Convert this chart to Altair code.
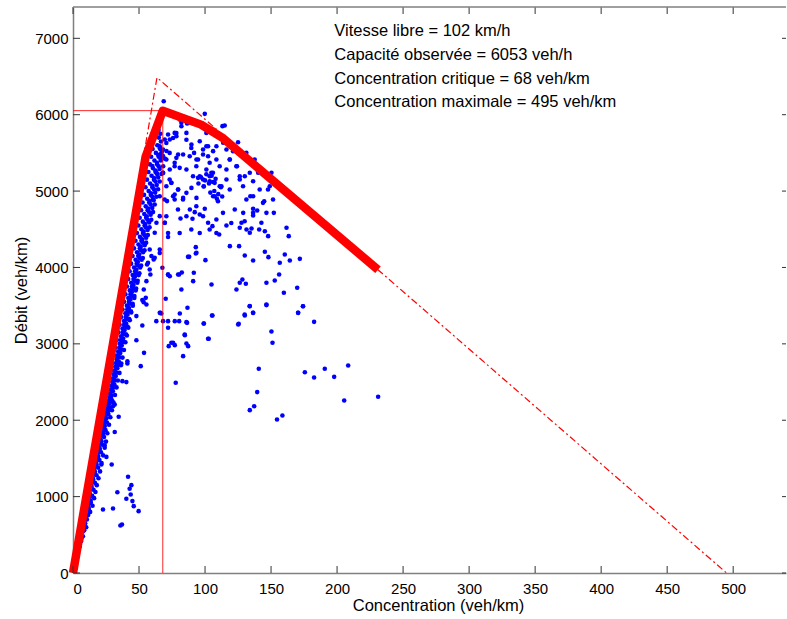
import altair as alt
import pandas as pd

# ---------------- data ----------------
# dense free-flow band (concentration veh/km, flow veh/h)
band_conc = [0.5, 1, 1.4, 2, 2.2, 3, 3.1, 3.9, 4.2, 5, 5.1, 6.2, 6, 7, 7.5, 8.5, 7.8, 9, 10, 9.2, 10.5, 11.5,
             10.6, 12, 13, 11.8, 13.5, 14.8, 12.9, 14.5, 16,
             14, 15.5, 17, 15.1, 16.6, 18, 16.3, 17.8, 19.3, 17.4, 19, 20.5, 18.6, 20, 21.6, 19.7, 21.2, 22.8,
             20.8, 22.3, 24, 22, 23.5, 25, 23.1, 24.6, 26, 24.2, 25.7, 27.3,
             25.3, 26.8, 28.3, 26.4, 28, 29.5, 27.5, 29, 30.7, 28.6, 30.2, 31.8, 29.8, 31.3, 33, 30.9, 32.4, 34,
             32, 33.6, 35.2, 33.1, 34.7, 36.3, 34.2, 35.8, 37.5, 35.3, 36.9, 38.6,
             36.4, 38, 39.7, 37.5, 39.1, 40.8, 38.6, 40.2, 41.9, 39.7, 41.3, 43, 40.8, 42.4, 44.1, 41.9, 43.5, 45.3,
             43, 44.6, 46.4, 44.1, 45.8, 47.5, 45.2, 46.9, 48.7, 46.3, 48, 49.8,
             47.4, 49.1, 50.9, 48.5, 50.2, 52, 49.6, 51.3, 53.1, 50.7, 52.4, 54.3, 51.8, 53.5, 55.4, 52.9, 54.7, 56.5,
             54, 55.8, 57.7, 55.1, 56.9, 58.8, 56.2, 58, 60, 57.3, 59.1, 61.1,
             58.4, 60.2, 62.2, 59.5, 61.4, 63.4, 60.6, 62.5, 64.5, 61.7, 63.6, 65.6, 62.8, 64.7, 66.5, 63.9, 65.8, 67,
             65, 66.6, 64.8, 66.2,
             1.8, 2.3, 2.9, 3.6, 4, 5, 5.1, 6.4, 6.2, 7.8, 7.3, 9.2, 8.4, 10.5, 9.4, 11.9, 10.5, 13.3,
             11.4, 12.5, 12.5, 13.7, 13.6, 14.9, 14.7, 16.1, 15.8, 17.3, 16.8, 18.5, 17.9, 19.6, 19, 20.8,
             20.1, 22, 21.2, 23.2, 22.3, 24.4, 23.4, 25.6, 24.5, 26.8, 25.5, 28, 26.6, 29.2, 27.7, 30.4,
             28.8, 31.5, 29.9, 32.7, 31, 33.9, 32.1, 35.1, 33.2, 36.3, 34.2, 37.5, 35.3, 38.7, 36.4, 39.9,
             37.5, 41.1, 38.6, 42.3, 39.7, 43.5, 40.8, 44.6, 41.8, 45.8, 42.9, 47, 44, 48.2, 45.1, 49.4,
             46.2, 50.6, 47.3, 51.8, 48.4, 53, 49.5, 54.2, 50.5, 55.4, 51.6, 56.5, 52.7, 57.7, 53.8, 58.9,
             54.9, 60.1, 56, 61.3, 57.1, 62.5, 58.2, 63.7, 59.2, 64.9, 60.3, 66,
             36.9, 38.8, 38.1, 40.1, 39.3, 41.3, 40.5, 42.6, 41.8, 43.9, 43, 45.2, 44.2, 46.5, 45.4, 47.8,
             46.6, 49, 47.9, 50.3, 49.1, 51.6, 50.3, 52.9, 51.5, 54.2, 52.7, 55.4, 54, 56.7, 55.2, 58,
             56.4, 59.3, 57.6, 60.6, 58.8, 61.9, 60.1, 63.1, 61.3, 64.4, 62.5, 65.7, 63.7, 67, 64.9, 68.3,
             66.2, 69.5, 67.4, 70.8,
             12.8, 14.1, 15.3, 16.6, 17.8, 19.1, 20.3, 21.6, 22.8, 24.1, 25.3, 26.6, 27.8, 29.1, 30.3, 31.6,
             32.8, 34.1, 35.3, 36.6]
band_flow = [40, 90, 110, 150, 200, 220, 280, 300, 360, 350, 430, 420, 500, 540, 480, 560, 620, 640, 600, 720, 700, 760,
             820, 820, 800, 900, 920, 880, 1000, 1010, 980,
             1100, 1090, 1060, 1200, 1180, 1150, 1300, 1280, 1240, 1400, 1380, 1330, 1500, 1480, 1440, 1600, 1580, 1540,
             1700, 1680, 1640, 1800, 1780, 1720, 1900, 1870, 1830, 2000, 1970, 1940,
             2100, 2080, 2040, 2200, 2170, 2130, 2300, 2280, 2230, 2400, 2380, 2330, 2500, 2470, 2430, 2600, 2580, 2520,
             2700, 2680, 2620, 2800, 2770, 2720, 2900, 2880, 2820, 3000, 2980, 2920,
             3100, 3070, 3020, 3200, 3180, 3110, 3300, 3270, 3210, 3400, 3380, 3310, 3500, 3470, 3410, 3600, 3580, 3500,
             3700, 3680, 3600, 3800, 3770, 3700, 3900, 3880, 3800, 4000, 3970, 3900,
             4100, 4070, 4000, 4200, 4170, 4100, 4300, 4270, 4200, 4400, 4370, 4290, 4500, 4470, 4390, 4600, 4570, 4490,
             4700, 4670, 4590, 4800, 4770, 4690, 4900, 4870, 4780, 5000, 4970, 4880,
             5100, 5070, 4980, 5200, 5170, 5080, 5300, 5270, 5180, 5400, 5370, 5290, 5500, 5470, 5400, 5600, 5560, 5500,
             5700, 5650, 5800, 5750,
             150, 150, 250, 250, 350, 350, 450, 450, 550, 550, 650, 650, 750, 750, 850, 850, 950, 950,
             1050, 1050, 1150, 1150, 1250, 1250, 1350, 1350, 1450, 1450, 1550, 1550, 1650, 1650, 1750, 1750,
             1850, 1850, 1950, 1950, 2050, 2050, 2150, 2150, 2250, 2250, 2350, 2350, 2450, 2450, 2550, 2550,
             2650, 2650, 2750, 2750, 2850, 2850, 2950, 2950, 3050, 3050, 3150, 3150, 3250, 3250, 3350, 3350,
             3450, 3450, 3550, 3550, 3650, 3650, 3750, 3750, 3850, 3850, 3950, 3950, 4050, 4050, 4150, 4150,
             4250, 4250, 4350, 4350, 4450, 4450, 4550, 4550, 4650, 4650, 4750, 4750, 4850, 4850, 4950, 4950,
             5050, 5050, 5150, 5150, 5250, 5250, 5350, 5350, 5450, 5450, 5550, 5550,
             3025, 3025, 3125, 3125, 3225, 3225, 3325, 3325, 3425, 3425, 3525, 3525, 3625, 3625, 3725, 3725,
             3825, 3825, 3925, 3925, 4025, 4025, 4125, 4125, 4225, 4225, 4325, 4325, 4425, 4425, 4525, 4525,
             4625, 4625, 4725, 4725, 4825, 4825, 4925, 4925, 5025, 5025, 5125, 5125, 5225, 5225, 5325, 5325,
             5425, 5425, 5525, 5525,
             1025, 1125, 1225, 1325, 1425, 1525, 1625, 1725, 1825, 1925, 2025, 2125, 2225, 2325, 2425, 2525,
             2625, 2725, 2825, 2925]

# scattered observations (congested / transition regime)
scat_conc = [53.5, 55.6, 66.9, 63.1, 68.2, 72, 48, 52.5, 48, 53.8, 72, 72.5, 74.5,
             22.7, 30.3, 33.6, 40.4, 41.7, 42.9, 43.7, 44.2, 45, 46, 49.7, 35.9, 37.1,
             34.6, 31.6, 30.3, 31.6, 29.8, 25.3, 24, 21.5, 29.3, 36.6, 37.4, 40.4, 41.2, 41.2,
             69.5, 72, 65.7, 61.9, 67.7, 79.6, 70.2, 66.2, 52.5, 55.6, 58.6, 56.8, 59.4, 58.1, 61.9, 63.2, 65.7,
             71.2, 77, 79.6, 74.5, 73.3, 77, 79.6, 65.7, 68.2, 60.1, 63.2, 60.6, 51.3,
             55.1, 53.6, 58.1, 61.1, 56.1, 73.3, 72, 87.1, 93, 65.7,
             72, 77, 82.1, 86.4, 90.9, 95.5, 113.2, 114.9, 106.1, 101,
             69.5, 73.3, 78.3, 85.9, 96, 102.3, 108.6, 113.7, 116.2, 125, 65.7, 68.2, 89.7, 98.5, 106.1,
             65.7, 70.7, 78.3, 83.4, 88.4, 93.5, 98.5, 103.5, 108.6, 111.1, 118.7, 123.7, 131.3, 133.9, 137.6, 101, 104.8,
             68.2, 77, 80.8, 85.9, 90.9, 94.7, 98.5, 103.5, 107.3, 111.1, 116.2, 118.7, 126.3, 130.1, 133.9, 141.4,
             147.7, 150.3, 70.7, 74.5, 79.6, 85.9, 89.7,
             65.7, 77, 83.4, 93.5, 106.1, 136.4, 69.5, 65.7, 72,
             68.7, 99.8, 80.8, 87.1,
             97, 100, 103, 105, 107, 108, 110, 112, 99, 104, 106, 109, 101, 95, 113,
             136.4, 142.7, 145.3, 147.8, 133.9, 126.3, 118.8, 125.8, 130.1, 136.4, 145.3, 148, 131.4, 135.2, 141,
             152.1, 144.8, 139.5, 136.4, 128.9, 127.6, 116.2, 110.7, 105.6, 102.3, 99.8, 96, 92.2, 88.5, 90.5, 81.4,
             93, 93.5, 88, 100.3, 104.9, 91, 91.5, 82.1, 80.4, 82.4, 123.8, 126.3, 128.3, 130.9, 146.5, 152.8, 156.1,
             159.7, 169.8, 161.7, 163.4, 160.4, 164.2, 156.6, 171.8, 133.9, 136.4, 130.1, 125.1, 146.5, 105.6, 99.1,
             102.8, 86.7, 80.9, 77.1, 80.4, 86.4, 84.7, 75.8, 77.1, 85.9, 87.2, 83.4, 77.8, 150.3, 151.1, 140.7, 139.5,
             133.9, 137.2, 158.6, 175.6, 182.6, 190.7, 197.8, 208.4, 205.4, 231.1, 154.5, 170.5, 174.2, 182.6,
             125.5, 130, 133.8, 136.4, 146.5, 170.5, 174.2, 99, 105.3, 84.6, 85.9, 102.3,
             70.7, 73.2, 75.8, 78.3, 82.1, 82.8, 87.1, 85.9, 89.6, 91.7, 93.4, 96, 94.7, 101, 102.3, 99, 103.5,
             106, 107.3, 109.8, 112.4, 116.2, 118.7, 121.2, 124.2, 126.3, 128.8, 131.3, 134.3, 136.4, 140.2, 143.9,
             146.5, 149, 151.5, 73.2, 75.8, 79.5, 83.3, 85.9, 89.6, 93.4, 98.5, 103.5, 108.6, 113.6, 119.9, 122.5,
             130, 136.4, 66.9, 68.2, 69.4, 70.7, 72, 80.8, 96, 108.6]
scat_flow = [3546, 3515, 3398, 3297, 3297, 3297, 3363, 3240, 3048, 2882, 3210, 2970, 3014,
             832, 845, 1058, 971, 1259, 1102, 1028, 1150, 941, 875, 810, 622, 635,
             2046, 1845, 2184, 2206, 2250, 1520, 1673, 1420, 1420, 2743, 2512, 2499, 2773, 2743,
             4585, 4399, 4236, 4127, 3996, 3908, 3590, 3407, 3573, 3821, 3909, 4061, 4149, 4236, 4454, 4585, 4672,
             4869, 4890, 5021, 5109, 5283, 5370, 5480, 5480, 5458, 5327, 5240, 4890, 2708,
             3602, 3711, 3973, 4104, 4039, 3886, 3908, 4139, 4183, 3406,
             5740, 5762, 5894, 5885, 5894, 5871, 5850, 5858, 5806, 5762,
             5675, 5675, 5719, 5762, 5653, 5588, 5588, 5632, 5544, 5640, 5588, 5544, 5610, 5544, 5523,
             5457, 5413, 5435, 5479, 5457, 5413, 5479, 5370, 5413, 5326, 5413, 5326, 5501, 5413, 5413, 5283, 5239,
             5239, 5326, 5304, 5283, 5195, 5173, 5152, 5195, 5108, 5064, 5152, 5021, 5152, 5195, 5239, 5021,
             5021, 5239, 5064, 5108, 5021, 4977, 5042,
             4933, 4955, 4911, 4911, 4933, 4933, 4584, 4190, 3906,
             6177, 6011, 5937, 5894,
             5180, 5140, 5100, 5200, 5000, 5160, 4960, 5050, 5060, 4980, 5120, 4900, 5220, 5100, 4930,
             4681, 4585, 4475, 4410, 4454, 4519, 4279, 4279, 4157, 4091, 4205, 4135, 4497, 4510, 4497,
             4715, 4868, 4746, 4768, 4715, 4585, 4550, 4432, 4541, 4585, 4768, 4694, 4724, 4759, 4637, 4641,
             4266, 4192, 4139, 4096, 3777, 3821, 3930, 3712, 3908, 3934, 3712, 3799, 3843, 3786, 3799, 3830, 3908,
             3668, 3734, 4519, 4410, 4170, 4091, 4061, 4113, 3494, 3406, 3371, 3254, 3507, 3371, 3267,
             3066, 3472, 3398, 3297, 3297, 3275, 3114, 3014, 2983, 3005, 2970, 2839, 2490, 3162, 3014, 2673, 2368,
             2132, 2184, 2062, 2629, 2560, 2673, 2568, 2717, 2259, 2307, 2010, 3406, 3493, 3288,
             3262, 3384, 3493, 3406, 3515, 3406, 3493, 3266, 3371, 3123, 3284, 3066,
             5630, 5500, 5695, 5760, 5848, 5979, 5892, 5673, 5564, 5500, 5326, 5195, 5413, 5588, 5457, 5064, 5129,
             5239, 4933, 4868, 5064, 5282, 5413, 5522, 5326, 5195, 5064, 4890, 4933, 5129, 5239, 4846,
             4715, 5064, 4890, 5151, 4933, 4758, 4890, 4671, 4496, 4802, 4671, 4496, 4627, 4715, 4583, 4758,
             4605, 4715, 5457, 5238, 4889, 4671, 4452, 4452, 4452, 4452]

# fitted flow-concentration curve (thick red)
model_conc = [0, 55, 68, 97, 113, 231]
model_flow = [0, 5450, 6053, 5870, 5700, 3970]

# triangular diagram (dash-dot)
tri_conc = [0, 63.6, 495]
tri_flow = [0, 6487, 0]

# critical point (thin reference lines)
crit_conc = 68
cap_flow = 6053

annot_lines = ["Vitesse libre = 102 km/h",
               "Capacité observée = 6053 veh/h",
               "Concentration critique = 68 veh/km",
               "Concentration maximale = 495 veh/km"]

x_ticks = [0, 50, 100, 150, 200, 250, 300, 350, 400, 450, 500]
y_ticks = [0, 1000, 2000, 3000, 4000, 5000, 6000, 7000]
x_max = 540
y_max = 7410

# ---------------- chart ----------------
W, H = 713, 566
FONT = "Liberation Sans"
xs = alt.Scale(domain=[0, x_max], nice=False, zero=False)
ys = alt.Scale(domain=[0, y_max], nice=False, zero=False)

obs = pd.DataFrame({"conc": band_conc + scat_conc, "flow": band_flow + scat_flow})
model = pd.DataFrame({"conc": model_conc, "flow": model_flow, "i": range(len(model_conc))})
tri = pd.DataFrame({"conc": tri_conc, "flow": tri_flow, "i": range(len(tri_conc))})
refs = pd.DataFrame({"x": [0, crit_conc], "x2": [crit_conc, crit_conc],
                     "y": [cap_flow, 0], "y2": [cap_flow, cap_flow]})
xt = pd.DataFrame({"v": x_ticks})
yt = pd.DataFrame({"v": y_ticks})

x_axis = alt.Axis(values=x_ticks, format="d", ticks=False, tickSize=0, grid=False,
                  domainColor="#808080", domainWidth=1.5,
                  labelFont=FONT, labelFontSize=15, labelColor="black", labelPadding=8,
                  title="Concentration (veh/km)", titleFont=FONT, titleFontSize=16.5,
                  titleFontWeight="normal", titleColor="black",
                  titleX=365, titleY=37.5, titleBaseline="alphabetic")
y_axis = alt.Axis(values=y_ticks, format="d", ticks=False, tickSize=0, grid=False,
                  domainColor="#808080", domainWidth=1.5,
                  labelFont=FONT, labelFontSize=15, labelColor="black", labelPadding=5,
                  title="Débit (veh/km)", titleFont=FONT, titleFontSize=16.5,
                  titleFontWeight="normal", titleColor="black",
                  titleX=-47, titleY=283, titleAngle=270, titleAlign="center",
                  titleBaseline="alphabetic")


def X(field):
    return alt.X(field, scale=xs, axis=x_axis)


def Y(field):
    return alt.Y(field, scale=ys, axis=y_axis)


points = alt.Chart(obs).mark_circle(size=21, color="#0000ff", opacity=1).encode(
    x=X("conc:Q"), y=Y("flow:Q"),
)

ref_lines = alt.Chart(refs).mark_rule(color="#ff0000", strokeWidth=1, opacity=0.85).encode(
    x=X("x:Q"), x2="x2:Q", y=Y("y:Q"), y2="y2:Q",
)

tri_line = alt.Chart(tri).mark_line(color="#ff0000", strokeWidth=1.2, strokeDash=[7, 3, 2, 3]).encode(
    x=X("conc:Q"), y=Y("flow:Q"), order="i:Q",
)

model_line = alt.Chart(model).mark_line(color="#ff0000", strokeWidth=8.5, strokeCap="butt",
                                        strokeJoin="round").encode(
    x=X("conc:Q"), y=Y("flow:Q"), order="i:Q",
)

annot = alt.Chart(pd.DataFrame({"k": [0]})).mark_text(
    text=annot_lines, align="left", baseline="alphabetic", font=FONT, fontSize=16.5,
    lineHeight=23.67, color="black",
).encode(x=alt.value(261.3), y=alt.value(29.4))

tick_col = "#333333"
xt_bottom = alt.Chart(xt).mark_rule(color=tick_col, strokeWidth=1).encode(
    x=X("v:Q"), y=alt.value(H), y2=alt.value(H - 7))
xt_top = alt.Chart(xt).mark_rule(color=tick_col, strokeWidth=1).encode(
    x=X("v:Q"), y=alt.value(0), y2=alt.value(7))
yt_left = alt.Chart(yt).mark_rule(color=tick_col, strokeWidth=1).encode(
    y=Y("v:Q"), x=alt.value(0), x2=alt.value(7))
yt_right = alt.Chart(yt).mark_rule(color=tick_col, strokeWidth=1).encode(
    y=Y("v:Q"), x=alt.value(W - 4), x2=alt.value(W))
top_frame = alt.Chart(pd.DataFrame({"k": [0]})).mark_rule(color="#808080", strokeWidth=1.5).encode(
    x=alt.value(0), x2=alt.value(W), y=alt.value(0))

chart = alt.layer(
    points, ref_lines, tri_line, model_line, annot,
    xt_bottom, xt_top, yt_left, yt_right, top_frame,
).properties(
    width=W, height=H,
    autosize=alt.AutoSizeParams(type="none"),
    padding={"left": 73, "top": 7, "right": 1, "bottom": 46},
    background="white",
).configure_view(stroke=None)

chart.save("out.html", embed_options={"renderer": "svg", "actions": False})
